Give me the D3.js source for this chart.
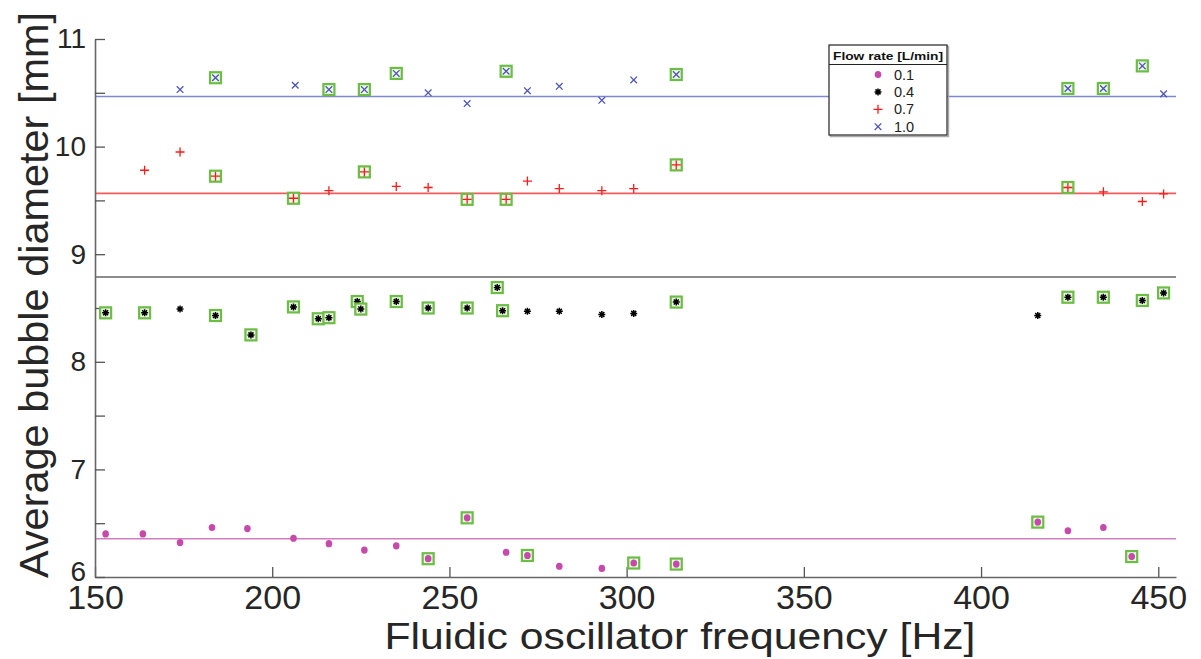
<!DOCTYPE html>
<html>
<head>
<meta charset="utf-8">
<script src="https://cdn.jsdelivr.net/npm/d3@7"></script>
<style>
  body { margin: 0; background: #fff; }
  svg { display: block; font-family: Arial, "Liberation Sans", Helvetica, sans-serif; }
</style>
</head>
<body>
<div id="maViz"></div>
<script>
// Paramètres du graphique
const W = 1201, H = 659;
const margin = {top: 39, right: 25, bottom: 82, left: 95};
const width = W - margin.left - margin.right;
const height = H - margin.top - margin.bottom;

// ---------- DONNEES ----------
// debit 0.1 L/min
const freq01 = [153, 163.5, 174, 183, 193, 206, 216, 226, 235, 244, 255, 266, 272, 281, 293, 302, 314, 416, 424.5, 434.5, 442.5];
const diam01 = [6.40, 6.40, 6.32, 6.46, 6.45, 6.36, 6.31, 6.25, 6.29, 6.17, 6.55, 6.23, 6.20, 6.10, 6.08, 6.13, 6.12, 6.51, 6.43, 6.46, 6.19];
const boite01 = [0, 0, 0, 0, 0, 0, 0, 0, 0, 1, 1, 0, 1, 0, 0, 1, 1, 1, 0, 0, 1];
// debit 0.4 L/min
const freq04 = [153, 164, 174, 184, 194, 206, 213, 216, 224, 225, 235, 244, 255, 263.5, 265, 272, 281, 293, 302, 314, 416, 424.5, 434.5, 445.5, 451.5];
const diam04 = [8.455, 8.455, 8.49, 8.43, 8.25, 8.51, 8.40, 8.41, 8.56, 8.49, 8.56, 8.50, 8.50, 8.69, 8.475, 8.47, 8.47, 8.44, 8.45, 8.555, 8.43, 8.60, 8.60, 8.57, 8.64];
const boite04 = [1, 1, 0, 1, 1, 1, 1, 1, 1, 1, 1, 1, 1, 1, 1, 0, 0, 0, 0, 1, 0, 1, 1, 1, 1];
// debit 0.7 L/min
const freq07 = [164, 174, 184, 206, 216, 226, 235, 244, 255, 266, 272, 281, 293, 302, 314, 424.5, 434.5, 445.5, 451.5];
const diam07 = [9.78, 9.95, 9.725, 9.52, 9.59, 9.765, 9.63, 9.62, 9.51, 9.51, 9.68, 9.61, 9.59, 9.61, 9.83, 9.62, 9.58, 9.49, 9.56];
const boite07 = [0, 0, 1, 1, 0, 1, 0, 0, 1, 1, 0, 0, 0, 0, 1, 1, 0, 0, 0];
// debit 1.0 L/min
const freq10 = [174, 184, 206.5, 216, 226, 235, 244, 255, 266, 272, 281, 293, 302, 314, 424.5, 434.5, 445.5, 451.5];
const diam10 = [10.53, 10.64, 10.57, 10.53, 10.53, 10.68, 10.50, 10.40, 10.70, 10.52, 10.56, 10.43, 10.62, 10.67, 10.54, 10.54, 10.75, 10.49];
const boite10 = [0, 1, 0, 1, 1, 1, 0, 0, 1, 0, 0, 0, 0, 1, 1, 1, 1, 0];

// lignes horizontales (moyennes)
const moyennes = [10.465, 9.565, 8.788, 6.355];
const couleursMoy = ['#7f86d2', '#f05c5c', '#8c8c8c', '#d27cc2'];

// axes
const xDomaine = [150, 455];
const yDomaine = [6, 11];
const xTicks = [150, 200, 250, 300, 350, 400, 450];
const yTicks = [6, 6.5, 7, 7.5, 8, 8.5, 9, 9.5, 10, 10.5, 11];
const yLabels = [6, 7, 8, 9, 10, 11];

const legendeLabels = ['0.1', '0.4', '0.7', '1.0'];

// ---------- STYLES DES MARQUEURS ----------
const series = [
  {f: freq01, d: diam01, b: boite01, type: 'point', couleur: '#c54aa9'},
  {f: freq04, d: diam04, b: boite04, type: 'etoile', couleur: '#000'},
  {f: freq07, d: diam07, b: boite07, type: 'plus', couleur: '#ff1a1a'},
  {f: freq10, d: diam10, b: boite10, type: 'croix', couleur: '#4d54b8'}
];

function dessineMarqueur(g, type, couleur) {
  if (type === 'point') {
    g.append('ellipse').attr('rx', 3.3).attr('ry', 3.6).attr('fill', couleur);
  } else if (type === 'etoile') {
    g.append('path').attr('d', 'M-3.5,0H3.5M0,-3.5V3.5M-2.5,-2.5L2.5,2.5M-2.5,2.5L2.5,-2.5')
      .attr('stroke', couleur).attr('stroke-width', 1.5).attr('fill', 'none');
  } else if (type === 'plus') {
    g.append('path').attr('d', 'M-4.5,0H4.5M0,-4.5V4.5')
      .attr('stroke', couleur).attr('stroke-width', 1.3).attr('fill', 'none');
  } else {
    g.append('path').attr('d', 'M-3.3,-3.3L3.3,3.3M-3.3,3.3L3.3,-3.3')
      .attr('stroke', couleur).attr('stroke-width', 1.3).attr('fill', 'none');
  }
}

// ---------- SVG ----------
const svg = d3.select('#maViz').append('svg')
  .attr('width', W).attr('height', H);

const x = d3.scaleLinear().domain(xDomaine).range([margin.left, margin.left + width]);
const y = d3.scaleLinear().domain(yDomaine).range([margin.top + height, margin.top]);

// lignes horizontales
svg.append('g').selectAll('line')
  .data(moyennes)
  .join('line')
    .attr('x1', x(xDomaine[0])).attr('x2', x(xDomaine[1]))
    .attr('y1', d => y(d)).attr('y2', d => y(d))
    .attr('stroke', (d, i) => couleursMoy[i])
    .attr('stroke-width', (d, i) => i === 2 ? 2 : 1.6);

// axe X (ticks vers l'intérieur)
const axeX = svg.append('g')
  .attr('transform', `translate(0,${margin.top + height})`)
  .call(d3.axisBottom(x).tickValues(xTicks).tickSizeInner(-10).tickSizeOuter(0).tickPadding(8));
axeX.select('.domain').attr('stroke', '#666').attr('stroke-width', 1.6);
axeX.selectAll('.tick line').attr('stroke', '#555').attr('stroke-width', 1.3);
axeX.selectAll('.tick text')
  .attr('font-size', 34).attr('fill', '#262626')
  .attr('font-family', 'Arial, "Liberation Sans", sans-serif');

// axe Y
const axeY = svg.append('g')
  .attr('transform', `translate(${margin.left},0)`)
  .call(d3.axisLeft(y).tickValues(yTicks).tickSizeInner(-10).tickSizeOuter(0).tickPadding(9)
    .tickFormat(d => yLabels.includes(d) ? d3.format('d')(d) : ''));
axeY.select('.domain').attr('stroke', '#666').attr('stroke-width', 1.6);
axeY.selectAll('.tick line').attr('stroke', '#555').attr('stroke-width', 1.3);
axeY.selectAll('.tick text')
  .attr('font-size', 28).attr('fill', '#262626')
  .attr('font-family', 'Arial, "Liberation Sans", sans-serif');
// le "6" est un peu remonté, comme sur l'original
axeY.selectAll('.tick').filter(d => d === 6).select('text').attr('dy', '0.12em');

// titres des axes
svg.append('text')
  .attr('x', 680).attr('y', 649)
  .attr('text-anchor', 'middle')
  .attr('font-size', 37).attr('fill', '#262626')
  .attr('textLength', 591).attr('lengthAdjust', 'spacingAndGlyphs')
  .text('Fluidic oscillator frequency [Hz]');

svg.append('text')
  .attr('transform', 'translate(48,295) rotate(-90)')
  .attr('text-anchor', 'middle')
  .attr('font-size', 41).attr('fill', '#262626')
  .attr('textLength', 566).attr('lengthAdjust', 'spacingAndGlyphs')
  .text('Average bubble diameter [mm]');

// ---------- POINTS ----------
const gPoints = svg.append('g');
series.forEach(s => {
  const pts = s.f.map((f, i) => ({f: f, d: s.d[i], b: s.b[i]}));
  const g = gPoints.append('g').selectAll('g')
    .data(pts)
    .join('g')
      .attr('transform', p => `translate(${x(p.f)},${y(p.d)})`);
  // carré vert autour des points sélectionnés
  g.filter(p => p.b === 1).append('rect')
    .attr('x', -5.5).attr('y', -5.5).attr('width', 11).attr('height', 11)
    .attr('fill', '#eef7e8').attr('stroke', '#6cbd44').attr('stroke-width', 2.2);
  g.each(function () { dessineMarqueur(d3.select(this), s.type, s.couleur); });
});

// ---------- LEGENDE ----------
const leg = svg.append('g').attr('transform', 'translate(829,45)');
leg.append('rect').attr('x', 1.5).attr('y', 1.5).attr('width', 118).attr('height', 90)
  .attr('fill', 'none').attr('stroke', '#aaa').attr('stroke-width', 1.5);
leg.append('rect').attr('width', 118).attr('height', 90)
  .attr('fill', '#fff').attr('stroke', '#222').attr('stroke-width', 1.2);
leg.append('line').attr('x1', 0).attr('x2', 118).attr('y1', 19.5).attr('y2', 19.5)
  .attr('stroke', '#222').attr('stroke-width', 1.2);
leg.append('text')
  .attr('x', 59).attr('y', 14.5).attr('text-anchor', 'middle')
  .attr('font-size', 11.5).attr('font-weight', 'bold').attr('fill', '#111')
  .attr('textLength', 110).attr('lengthAdjust', 'spacingAndGlyphs')
  .text('Flow rate [L/min]');

const lignes = leg.selectAll('g.entree')
  .data(series)
  .join('g')
    .attr('class', 'entree')
    .attr('transform', (s, i) => `translate(0,${29.5 + i * 17.4})`);
lignes.each(function (s) {
  const g = d3.select(this).append('g').attr('transform', 'translate(49,0)');
  dessineMarqueur(g, s.type, s.couleur);
});
lignes.append('text')
  .attr('x', 65).attr('y', 5)
  .attr('font-size', 14.5).attr('fill', '#222')
  .text((s, i) => legendeLabels[i]);
</script>
</body>
</html>
